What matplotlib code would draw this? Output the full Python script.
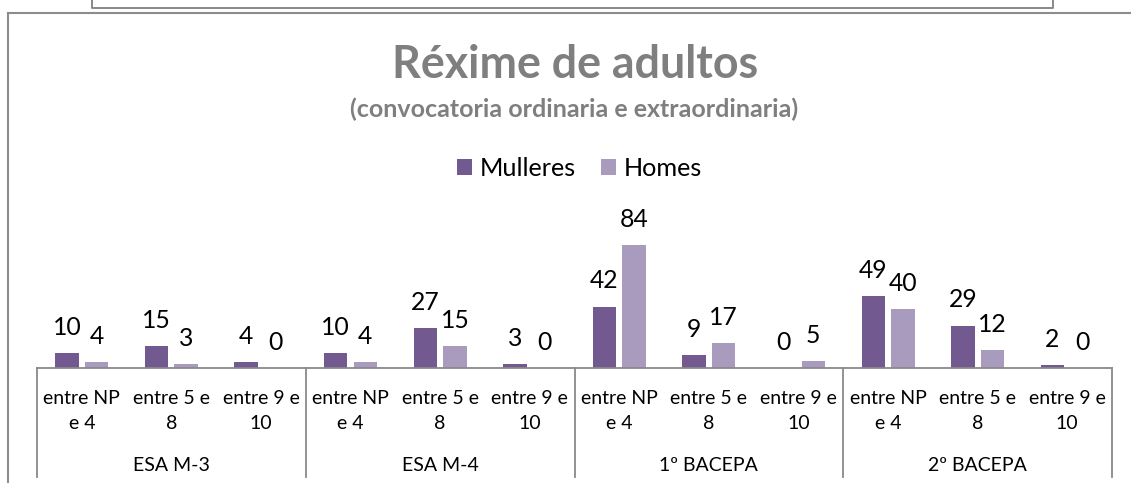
import matplotlib
matplotlib.use("Agg")
import matplotlib.pyplot as plt
from matplotlib.lines import Line2D
from matplotlib.patches import Patch
from matplotlib.transforms import blended_transform_factory
import numpy as np

# ---------------- data ----------------
groups = ["ESA M-3", "ESA M-4", "1º BACEPA", "2º BACEPA"]
subcats = ["entre NP\ne 4", "entre 5 e\n8", "entre 9 e\n10"]
series_names = ["Mulleres", "Homes"]
mulleres = [10, 15, 4, 10, 27, 3, 42, 9, 0, 49, 29, 2]
homes = [4, 3, 0, 4, 15, 0, 84, 17, 5, 40, 12, 0]
title = "Réxime de adultos"
subtitle = "(convocatoria ordinaria e extraordinaria)"

# ---------------- style ----------------
W, H = 1131, 483
DPI = 100
col_m = "#72598F"
col_h = "#A99BBE"
gray_title = "#7F7F7F"
axis_gray = "#898989"
FONT = "Lato"
plt.rcParams["font.family"] = [FONT, "DejaVu Sans"]

fig = plt.figure(figsize=(W / DPI, H / DPI), dpi=DPI)

def fx(x):
    return x / W

def fy(y):
    return 1 - y / H

# axes geometry (pixels)
ax_left, ax_right = 37, 1112
base_y = 368
ymax = 90
px_per_unit = 1.464
ax_h = ymax * px_per_unit
ax = fig.add_axes([fx(ax_left), fy(base_y), (ax_right - ax_left) / W, ax_h / H])

n = len(mulleres)
x = np.arange(n)
bw = 0.262
off = 0.165
ax.bar(x - off, mulleres, width=bw, color=col_m, label=series_names[0])
ax.bar(x + off, homes, width=bw, color=col_h, label=series_names[1])

for xi, v in zip(x - off, mulleres):
    ax.annotate(str(v), (xi, v), xytext=(0, 13), textcoords="offset points",
                ha="center", va="baseline", fontsize=17.8, color="#000000")
for xi, v in zip(x + off, homes):
    ax.annotate(str(v), (xi, v), xytext=(0, 13), textcoords="offset points",
                ha="center", va="baseline", fontsize=17.8, color="#000000")

ax.set_xlim(-0.5, n - 0.5)
ax.set_ylim(0, ymax)
for s in ["left", "right", "top"]:
    ax.spines[s].set_visible(False)
ax.spines["bottom"].set_color(axis_gray)
ax.spines["bottom"].set_linewidth(1.3)
ax.set_xticks([])
ax.set_yticks([])
ax.patch.set_alpha(0)

# category axis labels and separators
tr = blended_transform_factory(ax.transData, fig.transFigure)
ncat = len(subcats)
for gi, g in enumerate(groups):
    for ci, c in enumerate(subcats):
        idx = gi * ncat + ci
        l1, l2 = c.split("\n")
        ax.text(idx, fy(404), l1, transform=tr, ha="center", va="baseline",
                fontsize=14, color="#000000")
        ax.text(idx, fy(429), l2, transform=tr, ha="center", va="baseline",
                fontsize=14, color="#000000")
    ax.text(gi * ncat + (ncat - 1) / 2, fy(471), g, transform=tr, ha="center",
            va="baseline", fontsize=14, color="#000000")
for b in range(len(groups) + 1):
    xb = b * ncat - 0.5
    ax.add_line(Line2D([xb, xb], [fy(base_y), fy(477)], transform=tr,
                       color=axis_gray, lw=1.3, clip_on=False))

# titles
fig.text(fx(575.5), fy(78), title, ha="center", va="baseline", fontsize=32.2,
         fontweight="bold", color=gray_title)
fig.text(fx(574), fy(117), subtitle, ha="center", va="baseline", fontsize=18,
         fontweight="bold", color=gray_title)

# legend
handles = [Patch(facecolor=col_m, edgecolor="none"), Patch(facecolor=col_h, edgecolor="none")]
fig.legend(handles, series_names, loc="center", bbox_to_anchor=(fx(579.5), fy(168)),
           ncol=2, frameon=False, fontsize=18.2, handlelength=0.6, handleheight=0.6,
           handletextpad=0.3, columnspacing=1.0)

# frames (chart border and box above)
fig.add_artist(Line2D([fx(8), fx(8)], [fy(12.5), fy(H + 5)], transform=fig.transFigure,
                      color="#8C8C8C", lw=1.5))
fig.add_artist(Line2D([fx(8), fx(W + 5)], [fy(12.5), fy(12.5)], transform=fig.transFigure,
                      color="#8C8C8C", lw=1.5))
fig.add_artist(Line2D([fx(92), fx(92), fx(1053), fx(1053)], [fy(-5), fy(8), fy(8), fy(-5)],
                      transform=fig.transFigure, color="#808080", lw=1.3))

fig.savefig("out.png", dpi=DPI)
